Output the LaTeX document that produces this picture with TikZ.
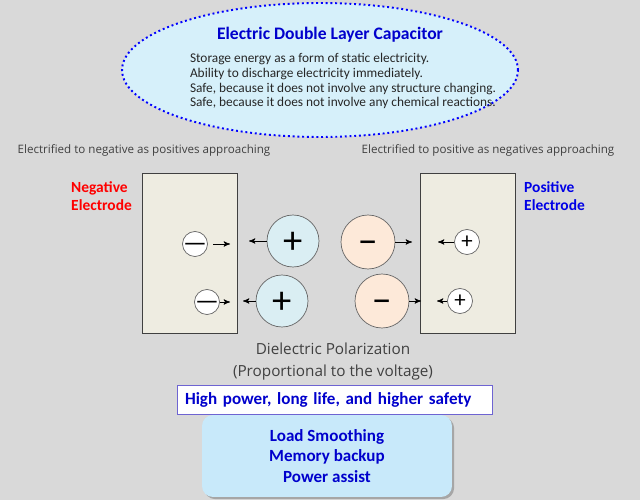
\documentclass[tikz,border=0pt]{standalone}
\usepackage{fontspec}
\setmainfont{Carlito}
\newfontfamily\thinfont{Open Sans}
\usetikzlibrary{positioning, arrows, shapes.geometric, shadows}

\definecolor{bggray}{RGB}{217,217,217}
\definecolor{ellfill}{RGB}{214,240,250}
\definecolor{titleblue}{RGB}{0,0,204}
\definecolor{posblue}{RGB}{0,0,230}
\definecolor{elecfill}{RGB}{238,236,225}
\definecolor{plusfill}{RGB}{218,238,243}
\definecolor{minusfill}{RGB}{253,233,217}
\definecolor{appfill}{RGB}{200,233,250}
\definecolor{boxblue}{RGB}{110,100,210}

\begin{document}
\begin{tikzpicture}[x=0.02cm,y=-0.02cm,>=stealth',
  elec/.style={draw=black!75,fill=elecfill,thin,minimum width=1.9cm,minimum height=3.2cm},
  ion/.style={circle,draw=black!60,thin,inner sep=0pt},
  sign/.style={inner sep=0pt,text depth=0pt},
  bplus/.style={ion,fill=plusfill,minimum size=1.04cm,label={[sign,text height=14pt,font=\fontsize{22}{22}\selectfont]center:+}},
  bminus/.style={ion,fill=minusfill,minimum size=1.08cm,label={[sign,text height=14pt,font=\fontsize{22}{22}\selectfont]center:−}},
  splus/.style={ion,fill=white,minimum size=0.5cm,label={[sign,text height=7.4pt,font=\fontsize{13}{13}\selectfont]center:+}},
  sminus/.style={ion,fill=white,minimum size=0.5cm,label={[sign,text height=8pt,font=\fontsize{15}{15}\selectfont]center:—}},
  push/.style={->,thin,black},
  note/.style={font=\thinfont\fontsize{6.6}{8}\selectfont,text=black!75}]

\fill[bggray] (0,0) rectangle (640,500);

\node[ellipse,draw=blue,line width=1.1pt,dash pattern=on 1.1pt off 1.6pt,fill=ellfill,
      minimum width=7.92cm,minimum height=2.68cm] (edlc) at (320,70) {};
\node[font=\bfseries\fontsize{10}{12}\selectfont,text=titleblue] (title) at (330,35) {Electric Double Layer Capacitor};
\node[align=left,font=\fontsize{7.6}{8.5}\selectfont,text=black!85] (feat) at (343,81)
  {Storage energy as a form of static electricity.\\
   Ability to discharge electricity immediately.\\
   Safe, because it does not involve any structure changing.\\
   Safe, because it does not involve any chemical reactions.};

\node[note] (lnote) at (144,150) {Electrified to negative as positives approaching};
\node[note] (rnote) at (488,150) {Electrified to positive as negatives approaching};

\node[elec] (neg) at (189.5,253) {};
\node[elec] (pos) at (468,253) {};
\node[anchor=west,align=left,text=red,font=\bfseries\fontsize{8.8}{10.2}\selectfont] (negl) at (65,196) {Negative\\Electrode};
\node[anchor=west,align=left,text=posblue,font=\bfseries\fontsize{8.8}{10.2}\selectfont] (posl) at (518,196) {Positive\\Electrode};

\node[sminus] (n1) at (195,244) {};
\node[sminus] (n2) at (207,302) {};
\node[bplus] (q1) at (293,241) {};
\node[bplus] (q2) at (282,301) {};
\node[bminus] (m1) at (368,242) {};
\node[bminus] (m2) at (382,301) {};
\node[splus] (p1) at (467,242) {};
\node[splus] (p2) at (460,301) {};

\coordinate (a1) at (230,244);
\coordinate (a2) at (230,302);
\coordinate (a3) at (249,241);
\coordinate (a4) at (243,301);
\coordinate (a5) at (412,242);
\coordinate (a6) at (421,301);
\coordinate (a7) at (438,242);
\coordinate (a8) at (437,301);
\draw[push,shorten <=3pt] (n1) -- (a1);
\draw[push] (n2) -- (a2);
\draw[push] (q1) -- (a3);
\draw[push] (q2) -- (a4);
\draw[push] (m1) -- (a5);
\draw[push] (m2) -- (a6);
\draw[push] (p1) -- (a7);
\draw[push] (p2) -- (a8);

\node[align=center,font=\thinfont\fontsize{8.7}{12.5}\selectfont,text=black!75] (diel) at (333,362)
  {Dielectric Polarization\\(Proportional to the voltage)};

\node[rounded corners=0.22cm,fill=appfill,drop shadow={shadow xshift=1.2pt,shadow yshift=-1.2pt,fill=black!35,opacity=1},
      minimum width=5cm,minimum height=1.64cm,align=center,
      font=\bfseries\fontsize{9.7}{11.6}\selectfont,text=titleblue] (apps) at (327,456)
  {Load Smoothing\\Memory backup\\Power assist};
\node[draw=boxblue,fill=white,thin,minimum width=6.3cm,minimum height=0.58cm,text width=5.98cm,inner xsep=0.16cm,
      align=left,font=\bfseries\fontsize{9.7}{11}\selectfont,text=titleblue] (merit) at (334.5,399.5)
  {High power, long life, and higher safety};
\end{tikzpicture}
\end{document}
